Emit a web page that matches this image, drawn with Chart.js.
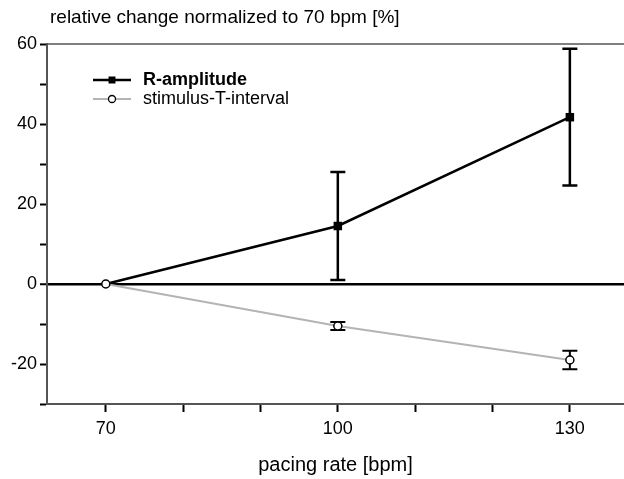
<!DOCTYPE html>
<html>
<head>
<meta charset="utf-8">
<script src="https://cdn.jsdelivr.net/npm/chart.js@4"></script>
<style>
  html, body { margin: 0; padding: 0; background: #fff; }
  #wrap { width: 624px; height: 479px; }
</style>
</head>
<body>
<div id="wrap"><canvas id="c" width="624" height="479"></canvas></div>
<script>
const rates = [70, 100, 130];
const rAmplitude = [0, 14.5, 41.7];
const rAmplitudeErr = [0, 13.5, 17.1];
const stimT = [0, -10.5, -19.0];
const stimTErr = [0, 1.0, 2.3];
const seriesNames = ['R-amplitude', 'stimulus-T-interval'];
const xTicks = [70, 80, 90, 100, 110, 120, 130];
const xLabels = [70, 100, 130];
const yTicks = [-30, -20, -10, 0, 10, 20, 30, 40, 50, 60];
const yLabels = [-20, 0, 20, 40, 60];
const chartTitle = 'relative change normalized to 70 bpm [%]';
const xTitle = 'pacing rate [bpm]';

const FONT = '"Liberation Sans", Arial, sans-serif';

const errorBars = {
  id: 'errorBars',
  beforeDatasetsDraw(chart) {
    const ctx = chart.ctx;
    const xs = chart.scales.x, ys = chart.scales.y;
    const sets = [[rAmplitude, rAmplitudeErr, 2.5], [stimT, stimTErr, 2]];
    ctx.save();
    ctx.strokeStyle = '#000';
    sets.forEach(([vals, errs, lw]) => {
      ctx.lineWidth = lw;
      vals.forEach((v, i) => {
        if (!errs[i]) return;
        const x = xs.getPixelForValue(rates[i]);
        const yt = ys.getPixelForValue(v + errs[i]);
        const yb = ys.getPixelForValue(v - errs[i]);
        ctx.beginPath();
        ctx.moveTo(x, yt); ctx.lineTo(x, yb);
        ctx.moveTo(x - 7.5, yt); ctx.lineTo(x + 7.5, yt);
        ctx.moveTo(x - 7.5, yb); ctx.lineTo(x + 7.5, yb);
        ctx.stroke();
      });
    });
    ctx.restore();
  },
  afterDraw(chart) {
    const ctx = chart.ctx;
    const a = chart.chartArea;
    ctx.save();
    // top frame line
    ctx.strokeStyle = '#555';
    ctx.lineWidth = 1.5;
    ctx.beginPath();
    ctx.moveTo(a.left, a.top); ctx.lineTo(a.right, a.top);
    ctx.stroke();
    // chart title
    ctx.fillStyle = '#000';
    ctx.font = '19px ' + FONT;
    ctx.textBaseline = 'middle';
    ctx.textAlign = 'left';
    ctx.fillText(chartTitle, 50, 18);
    // legend
    const rows = [
      { y: 80, color: '#000', lw: 2.5, style: 'rect', bold: true },
      { y: 99, color: '#b4b4b4', lw: 2, style: 'circle', bold: false }
    ];
    rows.forEach((r, i) => {
      ctx.strokeStyle = r.color;
      ctx.lineWidth = r.lw;
      ctx.beginPath();
      ctx.moveTo(93, r.y); ctx.lineTo(131, r.y);
      ctx.stroke();
      if (r.style === 'rect') {
        ctx.fillStyle = '#000';
        ctx.fillRect(108.5, r.y - 3.5, 7, 7);
      } else {
        ctx.beginPath();
        ctx.arc(112, r.y, 3.5, 0, Math.PI * 2);
        ctx.fillStyle = '#fff';
        ctx.fill();
        ctx.strokeStyle = '#000';
        ctx.lineWidth = 1.3;
        ctx.stroke();
      }
      ctx.fillStyle = '#000';
      ctx.font = (r.bold ? 'bold ' : '') + '18px ' + FONT;
      ctx.fillText(seriesNames[i], 143, r.y);
    });
    ctx.restore();
  }
};

new Chart(document.getElementById('c'), {
  type: 'line',
  data: {
    datasets: [
      {
        label: seriesNames[0],
        data: rates.map((x, i) => ({ x, y: rAmplitude[i] })),
        borderColor: '#000',
        backgroundColor: '#000',
        borderWidth: 2.5,
        pointStyle: 'rect',
        pointRadius: ctx => ctx.dataIndex === 0 ? 0 : 6,
        pointBorderWidth: 0,
        tension: 0,
        order: 2
      },
      {
        label: seriesNames[1],
        data: rates.map((x, i) => ({ x, y: stimT[i] })),
        borderColor: '#b4b4b4',
        borderWidth: 2,
        pointStyle: 'circle',
        pointRadius: 4,
        pointBackgroundColor: '#fff',
        pointBorderColor: '#000',
        pointBorderWidth: 1.5,
        tension: 0,
        order: 1
      }
    ]
  },
  options: {
    responsive: false,
    animation: false,
    layout: { autoPadding: false, padding: { top: 44, left: 0, right: 0, bottom: 0 } },
    plugins: { legend: { display: false }, tooltip: { enabled: false }, title: { display: false } },
    scales: {
      x: {
        type: 'linear',
        min: 62.4,
        max: 137,
        afterBuildTicks: s => { s.ticks = xTicks.map(v => ({ value: v })); },
        afterFit: s => { s.height = 75; s.paddingLeft = 0; s.paddingRight = 0; },
        ticks: {
          autoSkip: false,
          maxRotation: 0,
          padding: 6,
          color: '#000',
          font: { family: FONT, size: 18 },
          callback: v => xLabels.includes(v) ? String(v) : ''
        },
        grid: { drawOnChartArea: false, drawTicks: true, tickLength: 8, tickColor: '#000', tickWidth: 2 },
        border: { display: true, color: '#555', width: 2 },
        title: {
          display: true,
          text: xTitle,
          color: '#000',
          font: { family: FONT, size: 20 },
          padding: { top: 0, bottom: 2 }
        }
      },
      y: {
        min: -30,
        max: 60,
        afterBuildTicks: s => { s.ticks = yTicks.map(v => ({ value: v })); },
        afterFit: s => { s.width = 47; },
        ticks: {
          autoSkip: false,
          padding: 3,
          color: '#000',
          font: { family: FONT, size: 18 },
          callback: v => yLabels.includes(v) ? String(v) : ''
        },
        grid: {
          drawOnChartArea: true,
          drawTicks: true,
          tickLength: 7,
          tickColor: '#000',
          tickWidth: 2,
          color: c => (c.tick && c.tick.value === 0) ? '#000' : 'rgba(0,0,0,0)',
          lineWidth: c => (c.tick && c.tick.value === 0) ? 2.5 : 1
        },
        border: { display: true, color: '#555', width: 2 }
      }
    }
  },
  plugins: [errorBars]
});
</script>
</body>
</html>
